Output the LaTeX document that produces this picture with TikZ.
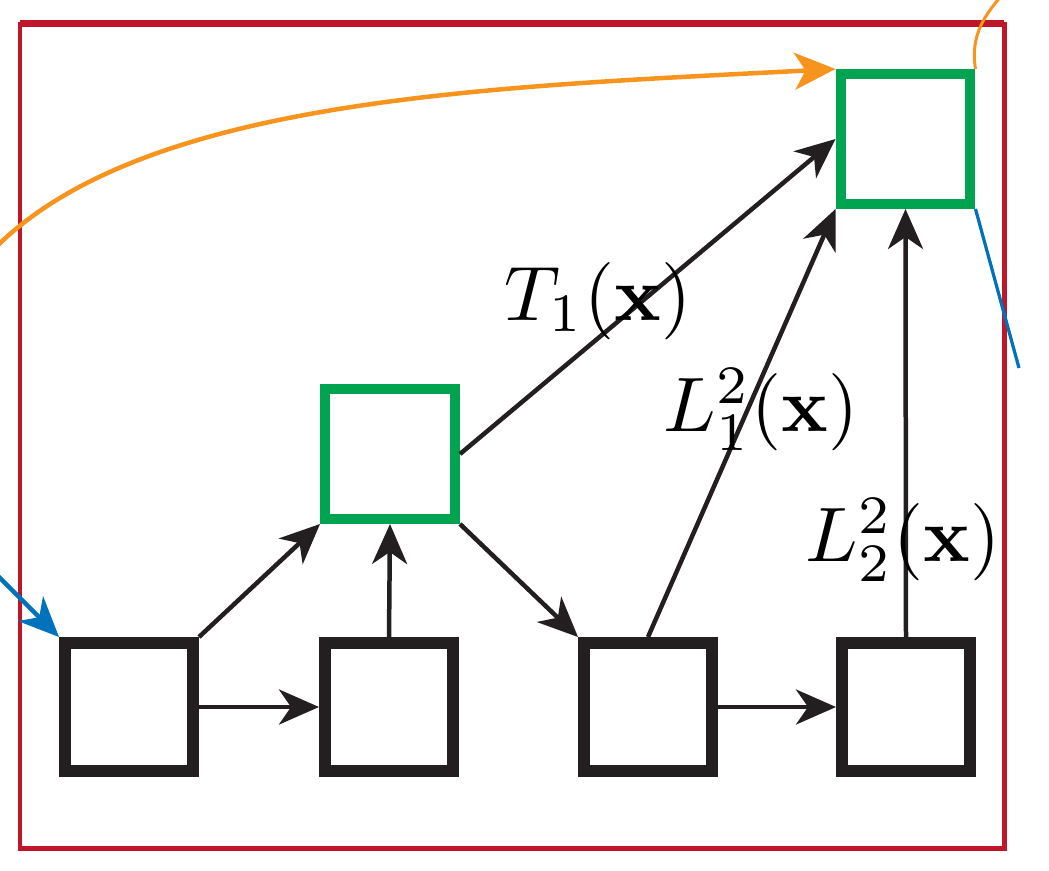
\documentclass[tikz,border=0pt]{standalone}
\usepackage{graphicx}
\usetikzlibrary{arrows.meta}
\definecolor{framered}{RGB}{192,22,42}
\definecolor{boxgreen}{RGB}{0,163,80}
\definecolor{boxblack}{RGB}{35,31,32}
\definecolor{curveorange}{RGB}{247,148,29}
\definecolor{lineblue}{RGB}{0,114,188}
\newcommand{\biglbl}[1]{\scalebox{4.4}{$#1$}}
\begin{document}
\begin{tikzpicture}[x=0.02cm,y=-0.02cm,
  blk/.style={draw=boxblack, line width=0.24cm, minimum size=2.56cm, inner sep=0pt, fill=white},
  grn/.style={draw=boxgreen, line width=0.2cm, minimum size=2.6cm, inner sep=0pt, fill=white},
  tip/.style={-{Stealth[length=0.8cm,width=0.7cm,inset=0.24cm]}},
  arr/.style={draw=boxblack, line width=0.09cm, tip},
  orng/.style={draw=curveorange, line width=0.09cm},
  blu/.style={draw=lineblue, line width=0.09cm},
  lbl/.style={inner sep=0pt, text=black}
]
\useasboundingbox (0,0) rectangle (1049,870);
% frame
\draw[framered, line width=0.1cm] (20,24) rectangle (1004,848);
\draw[framered, line width=0.13cm] (20,23) -- (1004,23);
% nodes
\node[blk] (b1) at (129,707) {};
\node[blk] (b2) at (389,707) {};
\node[blk] (b3) at (648,707) {};
\node[blk] (b4) at (906,707) {};
\node[grn] (gm) at (390,454) {};
\node[grn] (gt) at (905.5,139) {};
% coordinates for free ends
\coordinate (oleft) at (-5,248);
\coordinate (otop) at (1002,-5);
\coordinate (bleft) at (-2,576);
\coordinate (bright) at (1019,368);
% black arrows
\draw[arr] (b1) -- (b2);
\draw[arr] (b3) -- (b4);
\draw[arr] (b1.north east) -- (gm.south west);
\draw[arr] (b2.north) -- (gm.south);
\draw[arr] (gm.south east) -- (b3.north west);
\draw[arr] (gm.east) -- (gt.west);
\draw[arr] (b3.north) -- (gt.south west);
\draw[arr] (b4.north) -- (gt.south);
% orange curves
\draw[orng, -{Stealth[length=0.82cm,width=0.74cm,inset=0.22cm]}] (oleft) .. controls (145,98) and (488,87) .. (gt.north west);
\draw[orng, line width=0.06cm] (gt.north east) .. controls (970,35) and (985,15) .. (otop);
% blue lines
\draw[blu, tip] (bleft) -- (b1.north west);
\draw[blu, line width=0.065cm] (gt.south east) -- (bright);
% labels
\node[lbl] (t1) at (598,301) {\biglbl{T_1(\mathbf{x})}};
\node[lbl] (l1) at (761,410) {\biglbl{L_1^2(\mathbf{x})}};
\node[lbl] (l2) at (903,540) {\biglbl{L_2^2(\mathbf{x})}};
\end{tikzpicture}
\end{document}
